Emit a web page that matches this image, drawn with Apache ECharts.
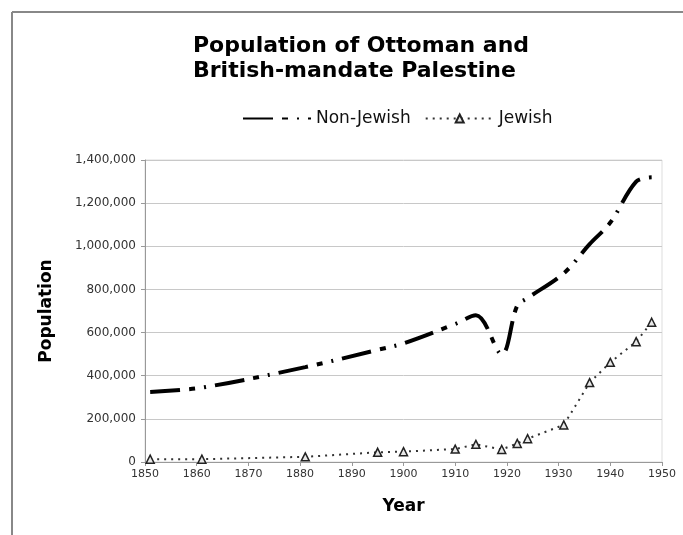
<!DOCTYPE html>
<html>
<head>
<meta charset="utf-8">
<script src="https://cdn.jsdelivr.net/npm/echarts@6/dist/echarts.min.js"></script>
<style>
html,body{margin:0;padding:0;background:#fff;}
#chart{width:683px;height:535px;}
</style>
</head>
<body>
<div id="chart"></div>
<script>
var years = [1851, 1861, 1881, 1895, 1900, 1910, 1914, 1919, 1922, 1924, 1931, 1936, 1940, 1945, 1948];
var nonJewish = [325000, 345000, 440000, 520000, 550000, 640000, 680000, 500000, 725000, 760000, 875000, 1010000, 1110000, 1300000, 1320000];
var jewish = [13000, 13000, 24000, 45000, 48000, 60000, 82000, 58000, 86000, 108000, 172000, 368000, 462000, 558000, 648000];
var xTicks = {min: 1850, max: 1950, step: 10};
var yTicks = {min: 0, max: 1400000, step: 200000};

function pairs(xs, ys) { return xs.map(function (x, i) { return [x, ys[i]]; }); }

var FONT = '"DejaVu Sans", Verdana, sans-serif';
var chart = echarts.init(document.getElementById('chart'), null, {renderer: 'canvas'});
chart.setOption({
  animation: false,
  backgroundColor: '#fff',
  textStyle: {fontFamily: FONT},
  title: {
    text: 'Population of Ottoman and\nBritish-mandate Palestine',
    left: 188, top: 29,
    textStyle: {fontFamily: FONT, fontSize: 22, fontWeight: 'bold', color: '#000', lineHeight: 25}
  },
  legend: {
    left: 237, top: 105,
    itemWidth: 68, itemHeight: 10, itemGap: 14,
    textStyle: {fontFamily: FONT, fontSize: 17, color: '#111'},
    data: [
      {name: 'Non-Jewish', itemStyle: {opacity: 0}},
      {name: 'Jewish'}
    ]
  },
  graphic: [
    {type: 'line', shape: {x1: 12, y1: 12, x2: 683, y2: 12}, style: {stroke: '#888', lineWidth: 2}},
    {type: 'line', shape: {x1: 12, y1: 12, x2: 12, y2: 535}, style: {stroke: '#888', lineWidth: 2}}
  ],
  grid: {left: 145, right: 21, top: 160, bottom: 73, show: true, borderColor: '#ddd', borderWidth: 1},
  xAxis: {
    type: 'value', min: xTicks.min, max: xTicks.max, interval: xTicks.step,
    name: 'Year', nameLocation: 'middle', nameGap: 36,
    nameTextStyle: {fontFamily: FONT, fontSize: 17, fontWeight: 'bold', color: '#000'},
    axisLine: {show: true, onZero: false, lineStyle: {color: '#999', width: 1}},
    axisTick: {show: true, inside: false, length: 4, lineStyle: {color: '#999'}},
    axisLabel: {fontFamily: FONT, fontSize: 11, color: '#333', margin: 7,
      formatter: function (v) { return String(v); }},
    splitLine: {show: false}
  },
  yAxis: {
    type: 'value', min: yTicks.min, max: yTicks.max, interval: yTicks.step,
    name: 'Population', nameLocation: 'middle', nameRotate: 90, nameGap: 90,
    nameTextStyle: {fontFamily: FONT, fontSize: 17, fontWeight: 'bold', color: '#000'},
    axisLine: {show: true, lineStyle: {color: '#999', width: 1}},
    axisTick: {show: true, inside: false, length: 4, lineStyle: {color: '#999'}},
    axisLabel: {fontFamily: FONT, fontSize: 12, color: '#333', margin: 9,
      formatter: function (v) { return v.toLocaleString('en-US'); }},
    splitLine: {show: true, lineStyle: {color: '#c8c8c8', width: 1}}
  },
  series: [
    {
      name: 'Non-Jewish', type: 'line', data: pairs(years, nonJewish),
      smooth: 0.35, symbol: 'none',
      itemStyle: {color: '#000'},
      lineStyle: {color: '#000', width: 4, type: [30, 9, 6, 9, 2, 9]}
    },
    {
      name: 'Jewish', type: 'line', data: pairs(years, jewish),
      smooth: false, symbol: 'triangle', symbolSize: 8,
      itemStyle: {color: '#e8e8e8', borderColor: '#222', borderWidth: 1.5},
      lineStyle: {color: '#333', width: 2, type: [2, 5]}
    }
  ]
});
</script>
</body>
</html>
